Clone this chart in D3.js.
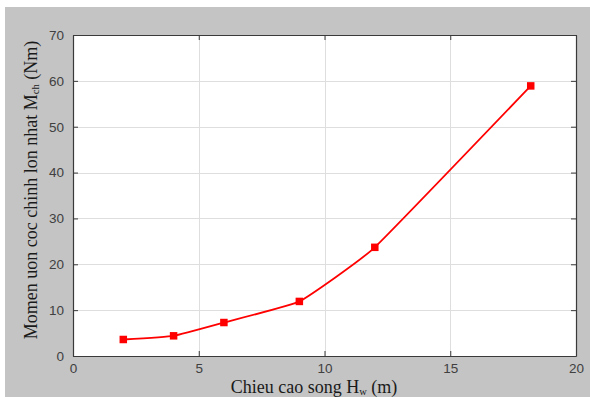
<!DOCTYPE html>
<html>
<head>
<meta charset="utf-8">
<script src="https://cdn.jsdelivr.net/npm/d3@7"></script>
<style>
  html, body { margin: 0; padding: 0; background: #ffffff; }
  svg { display: block; }
</style>
</head>
<body>
<script>
// Wave height (m) vs. maximum main pile bending moment (Nm)
const waveHeight = [2, 4, 6, 9, 12, 18.2];
const bendingMoment = [3.6, 4.4, 7.3, 11.9, 23.7, 58.9];
const xTicks = [0, 5, 10, 15, 20];
const yTicks = [0, 10, 20, 30, 40, 50, 60, 70];

const W = 590, H = 397;
const margin = { left: 73, right: 14, top: 35, bottom: 41 };

const svg = d3.select("body").append("svg")
  .attr("width", W).attr("height", H);

// figure background
svg.append("rect").attr("x", 5).attr("y", 7).attr("width", W - 5).attr("height", H - 7)
  .attr("fill", "#c4c4c4");

const x = d3.scaleLinear().domain([0, 20]).range([margin.left, W - margin.right]);
const y = d3.scaleLinear().domain([0, 70]).range([H - margin.bottom, margin.top]);

// plot area
svg.append("rect")
  .attr("x", x(0)).attr("y", y(70))
  .attr("width", x(20) - x(0)).attr("height", y(0) - y(70))
  .attr("fill", "#ffffff");

// grid
const grid = svg.append("g").attr("stroke", "#dedede").attr("stroke-width", 1);
grid.selectAll("line.gx").data(xTicks.slice(1, -1)).join("line")
  .attr("x1", d => Math.round(x(d)) + 0.5).attr("x2", d => Math.round(x(d)) + 0.5)
  .attr("y1", y(0)).attr("y2", y(70));
grid.selectAll("line.gy").data(yTicks.slice(1, -1)).join("line")
  .attr("y1", d => Math.round(y(d)) + 0.5).attr("y2", d => Math.round(y(d)) + 0.5)
  .attr("x1", x(0)).attr("x2", x(20));

// axes with inward ticks, box on all sides
const tickFont = "'Liberation Sans', Arial, sans-serif";
const axisBottom = d3.axisBottom(x).tickValues(xTicks).tickSizeInner(-5).tickSizeOuter(0).tickPadding(7);
const axisLeft = d3.axisLeft(y).tickValues(yTicks).tickSizeInner(-5).tickSizeOuter(0).tickPadding(9);
const axisTop = d3.axisTop(x).tickValues(xTicks).tickSizeInner(-5).tickSizeOuter(0).tickFormat("");
const axisRight = d3.axisRight(y).tickValues(yTicks).tickSizeInner(-5).tickSizeOuter(0).tickFormat("");

function styleAxis(g) {
  g.selectAll(".domain").attr("stroke", "#3a3a3a").attr("stroke-width", 1.2);
  g.selectAll(".tick line").attr("stroke", "#3a3a3a");
  g.selectAll(".tick text").attr("fill", "#404040")
    .style("font-family", tickFont).style("font-size", "13.5px");
}

svg.append("g").attr("transform", `translate(0,${y(0)})`).call(axisBottom).call(styleAxis);
svg.append("g").attr("transform", `translate(${x(0)},0)`).call(axisLeft).call(styleAxis);
svg.append("g").attr("transform", `translate(0,${y(70)})`).call(axisTop).call(styleAxis);
svg.append("g").attr("transform", `translate(${x(20)},0)`).call(axisRight).call(styleAxis);

// data line, lightly smoothed
const pts = waveHeight.map((h, i) => [h, bendingMoment[i]]);
const line = d3.line().x(d => x(d[0])).y(d => y(d[1])).curve(d3.curveCardinal.tension(0.65));
svg.append("path").datum(pts)
  .attr("d", line).attr("fill", "none").attr("stroke", "#ff0000").attr("stroke-width", 1.8);

// square markers
const ms = 7.5;
svg.selectAll("rect.mk").data(pts).join("rect")
  .attr("x", d => x(d[0]) - ms / 2).attr("y", d => y(d[1]) - ms / 2)
  .attr("width", ms).attr("height", ms).attr("fill", "#ff0000");

// axis labels
const labelFont = "'Liberation Serif', 'Times New Roman', serif";
const xl = svg.append("text")
  .attr("x", 314).attr("y", 392.5)
  .attr("text-anchor", "middle")
  .style("font-family", labelFont).style("font-size", "18px").attr("fill", "#1a1a1a");
xl.append("tspan").text("Chieu cao song H");
xl.append("tspan").text("w").attr("dy", 2).style("font-size", "10.5px");
xl.append("tspan").text(" (m)").attr("dy", -2);

const yl = svg.append("text")
  .attr("transform", `translate(37,190) rotate(-90)`)
  .attr("text-anchor", "middle")
  .style("font-family", labelFont).style("font-size", "18px").attr("fill", "#1a1a1a");
yl.append("tspan").text("Momen uon coc chinh lon nhat M");
yl.append("tspan").text("ch").attr("dy", 2).style("font-size", "10.5px");
yl.append("tspan").text(" (Nm)").attr("dy", -2);
</script>
</body>
</html>
